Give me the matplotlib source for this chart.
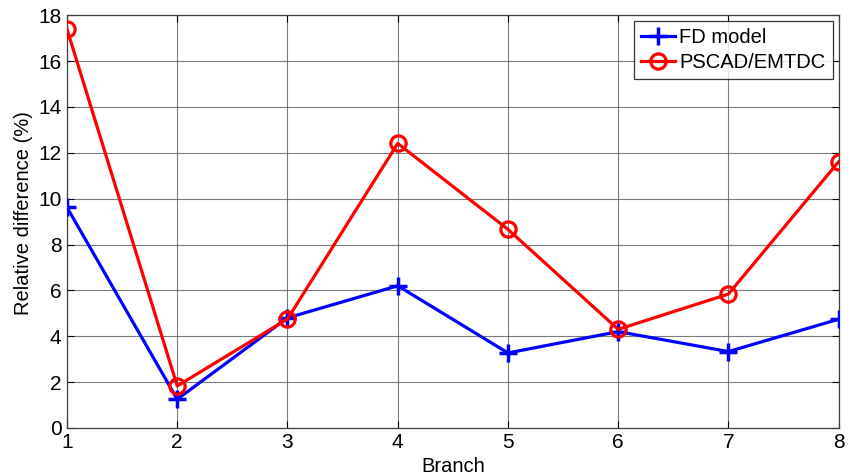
import matplotlib
matplotlib.use("Agg")
import matplotlib.pyplot as plt

branches = [1, 2, 3, 4, 5, 6, 7, 8]
fd_model = [9.62, 1.25, 4.80, 6.20, 3.27, 4.20, 3.33, 4.74]
pscad = [17.39, 1.83, 4.75, 12.41, 8.66, 4.30, 5.84, 11.61]

plt.rcParams['font.family'] = ['Liberation Sans', 'DejaVu Sans']

fig = plt.figure(figsize=(8.48, 4.76), dpi=100)
ax = fig.add_axes([0.079, 0.101, 0.910, 0.867])

ax.plot(branches, fd_model, color='#0000ff', lw=2.3, marker='+', ms=13, mew=2.5, label='FD model', zorder=3)
ax.plot(branches, pscad, color='#ff0000', lw=2.3, marker='o', ms=11, mew=2.3, mfc='none', label='PSCAD/EMTDC', zorder=4)

ax.set_xlim(1, 8)
ax.set_ylim(0, 18)
ax.set_xticks(branches)
ax.set_yticks(range(0, 19, 2))
ax.grid(True, color='#505050', lw=0.8, alpha=0.75)
ax.set_axisbelow(True)
ax.tick_params(labelsize=15, direction='in', length=5, top=True, right=True, pad=4)
for s in ax.spines.values():
    s.set_color('#404040')
    s.set_linewidth(0.9)
ax.set_xlabel('Branch', fontsize=14.5, labelpad=3)
ax.set_ylabel('Relative difference (%)', fontsize=14.5)
ax.yaxis.set_label_coords(-0.044, 0.52)

leg = ax.legend(loc='upper right', fontsize=14.5, fancybox=False, edgecolor='black',
                handlelength=1.7, borderpad=0.35, labelspacing=0.3, handletextpad=0.2,
                borderaxespad=0.3)
leg.get_frame().set_linewidth(0.9)

fig.savefig('out.png', dpi=100)
